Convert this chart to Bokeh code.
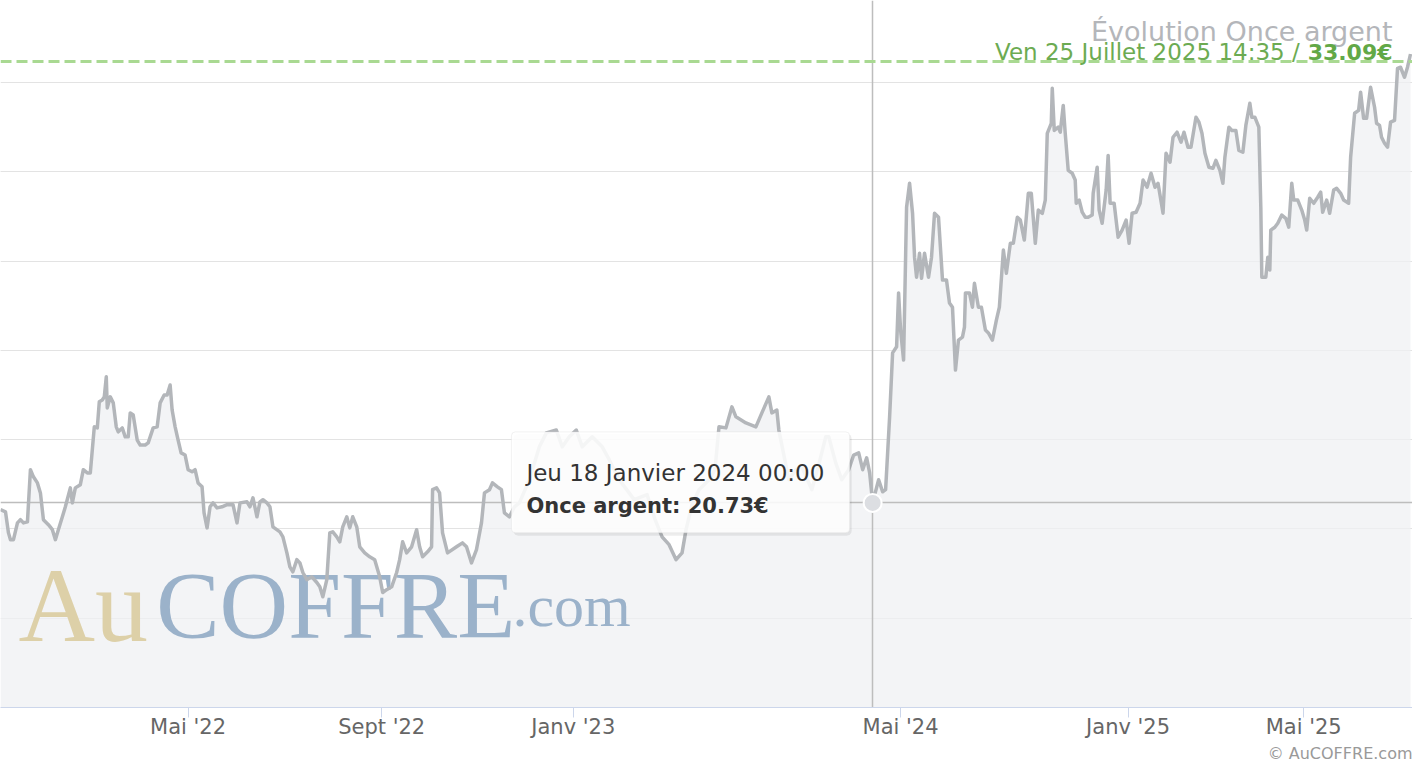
from bokeh.plotting import figure
from bokeh.models import Range1d, FixedTicker, Grid, Label, BoxAnnotation, Title
from bokeh.core.properties import value
from bokeh.embed import file_html
from bokeh.resources import INLINE

# ---------------- DATA ----------------
# Highcharts ordinal x-axis: position of each quote on the axis, and the silver ounce price (EUR)
pos_2022 = [0, 5, 8, 10, 13, 17, 20, 23, 27, 30,
            33, 37, 40, 43, 48, 52, 55, 58, 62, 65,
            70, 72, 75, 80, 83, 87, 90, 94, 97, 99,
            102, 104, 106, 107, 110, 113, 116, 118, 122, 125,
            128, 130, 133, 137, 140, 145, 148, 153, 157, 160,
            164, 167, 170, 172, 175, 178, 181, 185, 188, 192,
            195, 198, 202, 204, 207, 210, 213, 217, 222, 227,
            233, 237, 240, 247, 250, 253, 257, 260, 263, 267,
            270, 273, 280, 283, 287, 290, 293, 297, 300, 303,
            307, 312, 317, 320, 323, 327, 330, 333, 337, 340,
            343, 347, 350, 353, 357, 360, 365, 370, 375, 380,
            383, 387, 392, 397, 400, 403, 407, 412, 417, 420,
            423, 428, 432, 433, 437, 440]
price_2022 = [20.54, 20.48, 19.89, 19.70, 19.70, 20.17, 20.26, 20.17, 20.20, 21.66,
              21.46, 21.29, 21.01, 20.26, 20.12, 19.98, 19.70, 19.98, 20.34, 20.62,
              21.15, 20.73, 21.15, 21.24, 21.66, 21.57, 21.57, 22.86, 22.83, 23.56,
              23.61, 23.70, 24.26, 23.39, 23.70, 23.53, 22.86, 22.72, 22.83, 22.58,
              22.58, 23.25, 23.19, 22.49, 22.35, 22.35, 22.41, 22.83, 22.86, 23.53,
              23.75, 23.75, 24.03, 23.33, 22.86, 22.49, 22.13, 22.07, 21.66, 21.60,
              21.66, 21.29, 21.18, 20.45, 20.03, 20.62, 20.73, 20.59, 20.62, 20.68,
              20.68, 20.17, 20.73, 20.76, 20.62, 20.87, 20.34, 20.76, 20.82, 20.73,
              20.62, 20.06, 19.92, 19.78, 19.33, 18.94, 18.80, 19.14, 19.05, 18.78,
              18.58, 18.66, 18.50, 18.38, 18.10, 18.58, 19.89, 19.92, 19.78, 19.64,
              20.06, 20.34, 20.03, 20.34, 20.06, 19.50, 19.33, 19.22, 19.14, 18.66,
              18.22, 18.30, 18.38, 18.78, 19.14, 19.64, 19.33, 19.50, 19.98, 19.50,
              19.22, 19.36, 19.50, 21.10, 21.15, 21.01]

pos_2023 = [443, 448, 457, 463, 467, 472, 477, 482, 485, 490,
            493, 498, 502, 505, 510, 515, 520, 530, 540, 547,
            557, 563, 570, 577, 583, 593, 603, 610, 620, 635,
            648, 656, 663, 670, 677, 683, 687, 693, 700, 710,
            716, 720, 727, 733, 737, 747, 757, 763, 770, 773,
            778, 780, 790, 797, 803, 813, 820, 827, 830, 837,
            843, 850, 855]
price_2023 = [19.89, 19.33, 19.50, 19.61, 19.50, 19.05, 19.42, 20.17, 21.01, 21.10,
              21.29, 21.18, 21.10, 20.45, 20.34, 20.62, 20.73, 21.38, 22.30, 22.69,
              22.77, 22.30, 22.58, 22.77, 22.30, 22.58, 22.30, 21.94, 21.38, 20.82,
              20.96, 20.26, 19.78, 19.56, 19.14, 19.33, 19.98, 20.68, 21.10, 21.38,
              21.66, 22.86, 22.83, 23.42, 23.14, 22.97, 22.86, 23.25, 23.70, 23.25,
              23.33, 22.77, 21.38, 21.66, 21.74, 21.10, 21.80, 22.58, 22.58, 21.85,
              21.38, 21.66, 22.07]

pos_2024_25 = [860, 864, 868, 871, 874, 880, 884, 887, 891, 894,
               898, 900, 902, 905, 908, 911, 914, 916, 918, 921,
               923, 926, 930, 933, 936, 940, 944, 948, 951, 954,
               957, 960, 964, 966, 967, 971, 974, 976, 980, 983,
               987, 990, 994, 998, 1001, 1005, 1008, 1012, 1015, 1019,
               1022, 1026, 1030, 1033, 1037, 1040, 1044, 1047, 1049, 1053,
               1054, 1056, 1060, 1062, 1065, 1067, 1070, 1074, 1077, 1078,
               1081, 1084, 1087, 1090, 1094, 1095, 1099, 1101, 1104, 1108,
               1110, 1112, 1116, 1120, 1124, 1128, 1131, 1134, 1138, 1142,
               1145, 1149, 1153, 1157, 1160, 1165, 1168, 1172, 1175, 1179,
               1183, 1186, 1190, 1193, 1198, 1201, 1204, 1207, 1211, 1215,
               1218, 1222, 1225, 1227, 1231, 1234, 1238, 1241, 1245, 1248,
               1252, 1254, 1257, 1261, 1263, 1264, 1268, 1270, 1272, 1273,
               1277, 1280, 1284, 1288, 1291, 1294, 1296, 1300, 1304, 1307,
               1309, 1312, 1316, 1320, 1323, 1325, 1329, 1332, 1336, 1339,
               1343, 1346, 1351, 1353, 1357, 1361, 1363, 1366, 1369, 1373,
               1377, 1379, 1382, 1384, 1387, 1390, 1393, 1397, 1400, 1403,
               1407, 1410, 1413]
price_2024_25 = [22.13, 21.66, 21.99, 21.57, 20.73, 21.38, 21.04, 21.10, 23.14, 24.93,
                 25.10, 26.61, 25.57, 24.73, 29.01, 29.68, 28.84, 27.61, 27.05, 27.72,
                 27.02, 27.72, 27.05, 27.61, 28.84, 28.73, 26.97, 26.97, 26.33, 26.21,
                 24.45, 25.29, 25.37, 25.65, 26.61, 26.61, 26.21, 26.88, 26.21, 26.21,
                 25.57, 25.49, 25.29, 25.85, 26.21, 27.81, 27.16, 28.00, 28.00, 28.73,
                 28.65, 28.09, 29.40, 29.40, 28.00, 28.93, 28.84, 29.21, 31.08, 31.36,
                 32.34, 31.16, 31.25, 31.11, 31.86, 31.08, 30.04, 29.96, 29.77, 29.12,
                 29.21, 28.87, 28.73, 28.73, 28.79, 29.40, 30.13, 28.93, 28.56, 29.49,
                 30.46, 29.12, 29.12, 28.17, 28.37, 28.65, 28.00, 28.84, 28.87, 29.12,
                 29.77, 29.57, 29.96, 29.57, 29.68, 28.84, 30.52, 30.27, 30.97, 31.11,
                 30.83, 31.11, 30.69, 30.69, 31.53, 31.39, 31.08, 30.52, 30.13, 30.10,
                 30.32, 30.04, 29.68, 30.41, 31.25, 31.16, 31.16, 30.60, 30.55, 31.30,
                 31.92, 31.53, 31.53, 31.25, 29.01, 27.05, 27.05, 27.61, 27.25, 28.37,
                 28.45, 28.56, 28.79, 28.70, 28.45, 29.68, 29.21, 29.21, 28.93, 28.65,
                 28.37, 29.26, 29.12, 29.29, 29.43, 28.87, 29.21, 28.84, 29.49, 29.54,
                 29.40, 29.21, 29.12, 30.41, 31.64, 31.72, 32.23, 31.50, 31.50, 32.37,
                 31.81, 31.36, 31.30, 30.97, 30.80, 30.69, 31.39, 31.44, 32.90, 32.93,
                 32.65, 32.93, 33.30]

tick_pos = [-3, 188, 382, 574, 902, 1130, 1306]
tick_labels = ["Janv '22", "Mai '22", "Sept '22", "Janv '23", "Mai '24", "Janv '25", "Mai '25"]
y_grid = [17.5, 20.0, 22.5, 25.0, 27.5, 30.0, 32.5]

title_text = "Évolution Once argent"
last_date = "Ven 25 Juillet 2025 14:35"
last_price = 33.09
series_name = "Once argent"
hover_date = "Jeu 18 Janvier 2024 00:00"
hover_pos = 874
hover_price = 20.73
credits_text = "© AuCOFFRE.com"

# ---------------- LAYOUT ----------------
X_START, X_END = 0, 1415          # visible part of the ordinal axis
FRAME_BOTTOM = 708                # canvas pixels
PX_PER_EUR = 35.76
Y_MIN = 15.0
Y_MAX = Y_MIN + FRAME_BOTTOM / PX_PER_EUR


def vy(canvas_y):
    """canvas pixel row -> price units (for placing annotations)"""
    return Y_MIN + (FRAME_BOTTOM - canvas_y) / PX_PER_EUR


positions = pos_2022 + pos_2023 + pos_2024_25
prices = price_2022 + price_2023 + price_2024_25
assert len(positions) == len(prices)

FONT = "DejaVu Sans"

p = figure(width=1412, height=762, output_backend="svg", toolbar_location=None,
           title=None, x_range=Range1d(X_START, X_END), y_range=Range1d(Y_MIN, Y_MAX),
           y_axis_location=None, min_border_left=0, min_border_right=0,
           min_border_top=0, min_border_bottom=762 - FRAME_BOTTOM)
p.outline_line_color = None
p.background_fill_color = "white"
p.border_fill_color = "white"
p.xgrid.visible = False

p.add_layout(Grid(dimension=1, ticker=FixedTicker(ticks=y_grid),
                  grid_line_color="#e3e3e3", grid_line_width=1))

ax = p.xaxis[0]
ax.ticker = FixedTicker(ticks=tick_pos)
ax.major_label_overrides = {t: l for t, l in zip(tick_pos, tick_labels)}
ax.axis_line_color = "#ccd6eb"
ax.axis_line_width = 1
ax.major_tick_line_color = "#ccd6eb"
ax.major_tick_out = 10
ax.major_tick_in = 0
ax.minor_tick_line_color = None
ax.major_label_text_font = FONT
ax.major_label_text_font_size = "21px"
ax.major_label_text_color = "#666666"
ax.major_label_standoff = -3

# credits, below the axis, right aligned
p.add_layout(Title(text=credits_text, align="right", text_font=FONT, text_font_size="16px",
                   text_font_style="normal", text_color="#999999", standoff=0), "below")

# area
p.varea(x=positions, y1=Y_MIN, y2=prices, fill_color="#eff0f3", fill_alpha=0.75)

# watermark logo
p.text(x=[18], y=[vy(606)], text=["Au"], text_font=value("Liberation Serif"),
       text_font_size="106px", text_color="#ddd0a8", text_baseline="alphabetic")
p.text(x=[156], y=[vy(606)], text=["COFFRE"], text_font=value("Liberation Serif"),
       text_font_size="95px", text_color="#9bb2ca", text_baseline="alphabetic")
p.text(x=[513], y=[vy(606)], text=[".com"], text_font=value("Liberation Serif"),
       text_font_size="60px", text_color="#9bb2ca", text_baseline="alphabetic")

# crosshairs
p.vspan(x=[hover_pos], line_color="#bdbdbd", line_width=1.5)
p.hspan(y=[hover_price], line_color="#bdbdbd", line_width=1.5)

# series line
p.line(positions, prices, line_color="#b3b6ba", line_width=3.5, line_join="round")

# last price plot line
p.hspan(y=[last_price], line_color="#a9d992", line_width=3, line_dash="11 5")

# hovered point
p.scatter([hover_pos], [hover_price], size=18, fill_color="#dcdee2",
          line_color="white", line_width=2)

# tooltip
p.add_layout(BoxAnnotation(left=hover_pos - 360, right=hover_pos - 21, top=vy(434), bottom=vy(536),
                           fill_color="black", fill_alpha=0.07, line_alpha=0, border_radius=5))
p.add_layout(BoxAnnotation(left=hover_pos - 362, right=hover_pos - 23, top=vy(432), bottom=vy(533),
                           fill_color="white", fill_alpha=0.88, line_color="#d4d4d4",
                           line_width=1, border_radius=4))
p.add_layout(Label(x=hover_pos - 347, y=vy(473), text=hover_date, text_font=FONT,
                   text_font_size="23px", text_color="#333333", text_baseline="alphabetic"))
p.add_layout(Label(x=hover_pos - 347, y=vy(506), text=f"{series_name}: {hover_price:.2f}€",
                   text_font=FONT, text_font_style="bold", text_font_size="21px",
                   text_color="#333333", text_baseline="alphabetic"))

# title / subtitle
p.add_layout(Label(x=1395, y=vy(31), text=title_text, text_font=FONT, text_font_size="27px",
                   text_color="#b4b6ba", text_align="right", text_baseline="alphabetic"))
p.add_layout(Label(x=1395, y=vy(52), text=f"{last_price:.2f}€", text_font=FONT,
                   text_font_style="bold", text_font_size="22px", text_color="#62a847",
                   text_align="right", text_baseline="alphabetic"))
p.add_layout(Label(x=1302, y=vy(52), text=f"{last_date} /", text_font=FONT,
                   text_font_size="23px", text_color="#6cab52",
                   text_align="right", text_baseline="alphabetic"))

open("out.html", "w").write(file_html(p, INLINE))
